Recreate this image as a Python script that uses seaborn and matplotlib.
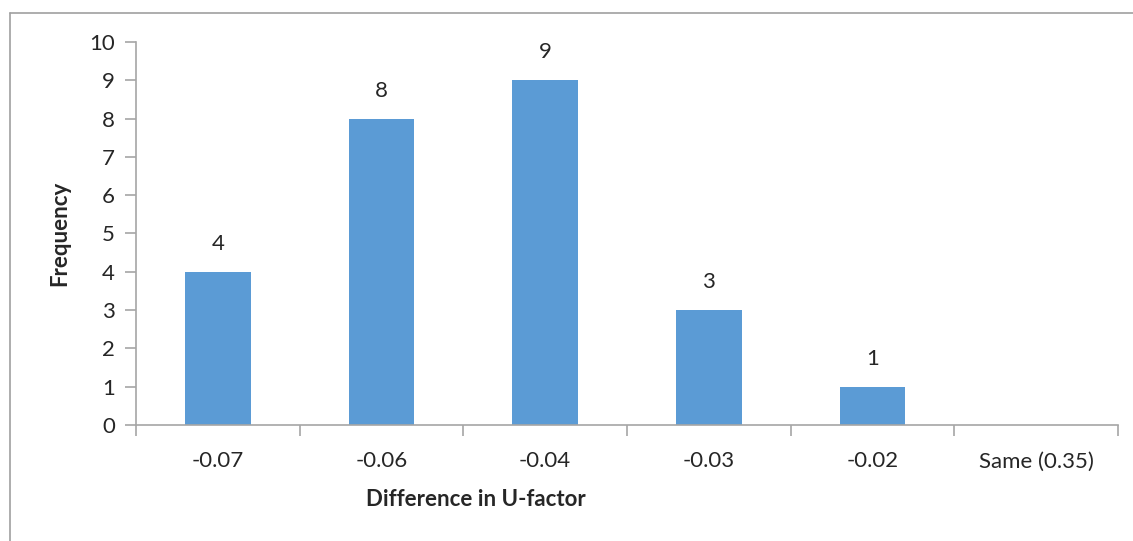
import matplotlib
matplotlib.use("Agg")
import matplotlib.pyplot as plt
from matplotlib.lines import Line2D
import seaborn as sns
import pandas as pd
import numpy as np

# Frequency of U-factor differences
categories = ["-0.07", "-0.06", "-0.04", "-0.03", "-0.02", "Same (0.35)"]
frequency = [4, 8, 9, 3, 1, 0]
y_ticks = [0, 1, 2, 3, 4, 5, 6, 7, 8, 9, 10]

sns.set_theme(style="white")
plt.rcParams["font.family"] = ["Lato", "DejaVu Sans"]
FS = 16

df = pd.DataFrame({"category": categories, "frequency": frequency})

fig = plt.figure(figsize=(11.33, 5.41), dpi=100)
ax = fig.add_axes([0.1200, 0.2144, 0.8668, 0.7080])

sns.barplot(data=df, x="category", y="frequency", order=categories,
            color="#5B9BD5", saturation=1, width=0.4, linewidth=0, ax=ax)

axis_gray = "#A6A6A6"
ax.set_xlim(-0.5, len(categories) - 0.5)
ax.set_ylim(0, 10)
ax.set_yticks(y_ticks)
ax.set_yticklabels([str(t) for t in y_ticks], fontsize=FS)

# category boundaries carry the tick marks, centres carry the labels
ax.set_xticks(np.arange(len(categories) + 1) - 0.5)
ax.set_xticklabels([])
ax.set_xticks(np.arange(len(categories)), minor=True)
ax.set_xticklabels(categories, minor=True, fontsize=FS)
ax.tick_params(axis="x", which="major", length=8, width=1.2, color=axis_gray,
               direction="out", bottom=True)
ax.tick_params(axis="x", which="minor", length=0, pad=19, bottom=True)
ax.tick_params(axis="y", length=8, width=1.2, color=axis_gray,
               direction="out", left=True, pad=7)

for side in ["top", "right"]:
    ax.spines[side].set_visible(False)
for side in ["left", "bottom"]:
    ax.spines[side].set_color(axis_gray)
    ax.spines[side].set_linewidth(1.2)

ax.set_xlabel("")
ax.set_ylabel("")
fig.text(60 / 1133, 1 - 233 / 541, "Frequency", rotation=90, ha="center",
         va="center", fontsize=FS, fontweight="bold")
fig.text(476 / 1133, 1 - 500 / 541, "Difference in U-factor", ha="center",
         va="center", fontsize=FS, fontweight="bold")

# value labels above the bars (empty categories stay unlabeled)
for patch, val in zip(ax.patches, frequency):
    if val > 0:
        ax.annotate(str(val), (patch.get_x() + patch.get_width() / 2, val),
                    xytext=(0, 13), textcoords="offset points",
                    ha="center", va="bottom", fontsize=FS)

# chart-area frame
fig.add_artist(Line2D([10 / 1133, 10 / 1133], [0, 1 - 12.5 / 541],
                      transform=fig.transFigure, color="#A0A0A0", lw=1.2))
fig.add_artist(Line2D([10 / 1133, 1.0], [1 - 12.5 / 541, 1 - 12.5 / 541],
                      transform=fig.transFigure, color="#A0A0A0", lw=1.2))

fig.savefig("out.png", dpi=100, facecolor="white")
